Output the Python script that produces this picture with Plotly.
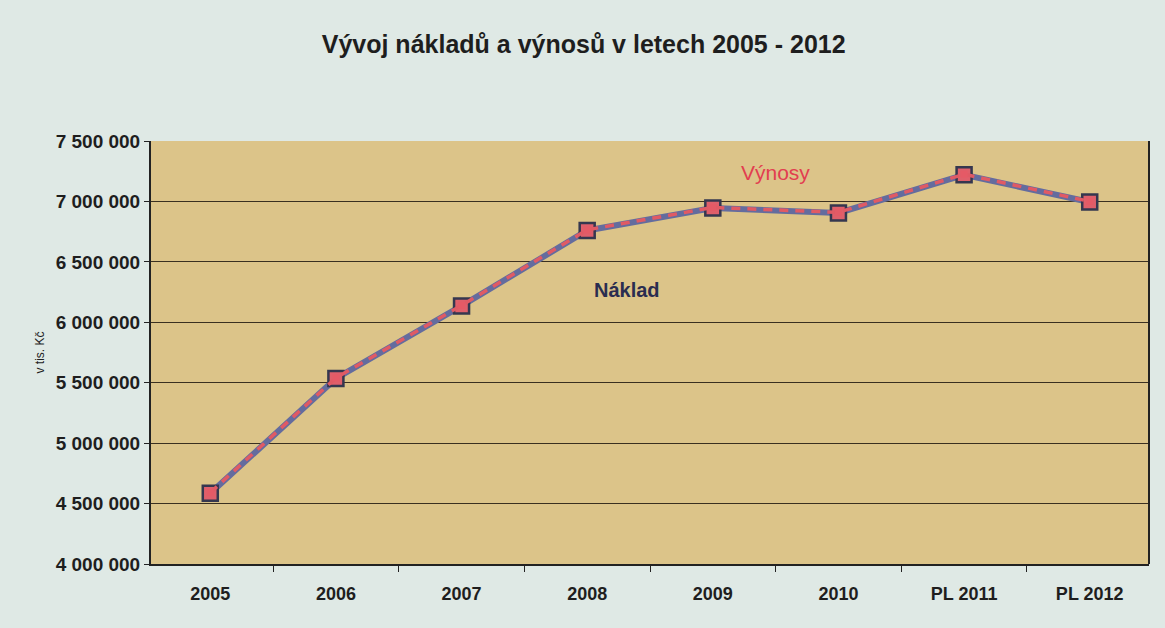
import plotly.graph_objects as go

categories = ["2005", "2006", "2007", "2008", "2009", "2010", "PL 2011", "PL 2012"]
naklad = [4585000, 5535000, 6135000, 6760000, 6945000, 6905000, 7220000, 6995000]
vynosy = [4590000, 5540000, 6140000, 6765000, 6950000, 6910000, 7225000, 7000000]
y_ticks = [4000000, 4500000, 5000000, 5500000, 6000000, 6500000, 7000000, 7500000]
y_tick_labels = ["4 000 000", "4 500 000", "5 000 000", "5 500 000",
                 "6 000 000", "6 500 000", "7 000 000", "7 500 000"]

font_family = "Liberation Sans, Arial, sans-serif"

fig = go.Figure()
fig.add_trace(go.Scatter(
    x=categories, y=naklad, name="Náklad", mode="lines+markers",
    line=dict(color="#646c9e", width=6),
    marker=dict(symbol="square", size=15, color="#df5f6a",
                line=dict(color="#35374f", width=2.5)),
))
fig.add_trace(go.Scatter(
    x=categories, y=vynosy, name="Výnosy", mode="lines+markers",
    line=dict(color="#e05a64", width=3.5, dash="9px,7px"),
    marker=dict(symbol="square", size=7, color="#e55a66"),
))

fig.add_annotation(x=4.5, y=7240000, text="Výnosy", showarrow=False,
                   font=dict(family=font_family, size=21, color="#e23e50"))
fig.add_annotation(x=3.32, y=6270000, text="Náklad", showarrow=False,
                   font=dict(family=font_family, size=20, color="#2a2d50", weight="bold"))

fig.update_layout(
    width=1165, height=628,
    margin=dict(l=151, r=16, t=141, b=64),
    paper_bgcolor="#dfe9e5",
    plot_bgcolor="#dcc489",
    showlegend=False,
    hovermode=False,
    title=dict(text="Vývoj nákladů a výnosů v letech 2005 - 2012",
               x=0.501, xanchor="center", y=0.93, yanchor="middle",
               font=dict(family=font_family, size=25, color="#1e1e1e", weight="bold")),
    font=dict(family=font_family, color="#1e1e1e"),
)
fig.update_xaxes(
    type="category", categoryorder="array", categoryarray=categories,
    tickson="boundaries", ticks="outside", ticklen=6, tickcolor="#222",
    showline=True, linecolor="#222", linewidth=2, mirror=False,
    showgrid=False, automargin=False, tickangle=0,
    tickfont=dict(family=font_family, size=18, color="#1e1e1e", weight="bold"),
    ticklabelstandoff=12,
)
fig.update_yaxes(
    range=[4000000, 7500000], tickvals=y_ticks, ticktext=y_tick_labels,
    ticks="outside", ticklen=5, tickcolor="#222",
    showline=True, linecolor="#222", linewidth=2,
    showgrid=True, gridcolor="#3a3020", gridwidth=1,
    zeroline=False, automargin=False,
    tickfont=dict(family=font_family, size=19, color="#1e1e1e", weight="bold"),
    title=dict(text="v tis. Kč", font=dict(family=font_family, size=12, color="#1e1e1e"),
               standoff=8),
)

# right border of plot area
fig.add_shape(type="line", xref="paper", yref="paper", x0=1, x1=1, y0=0, y1=1,
              line=dict(color="#222", width=2))

fig.write_html("out.html", config={"displayModeBar": False},
               post_script="document.body.style.margin='0';")
